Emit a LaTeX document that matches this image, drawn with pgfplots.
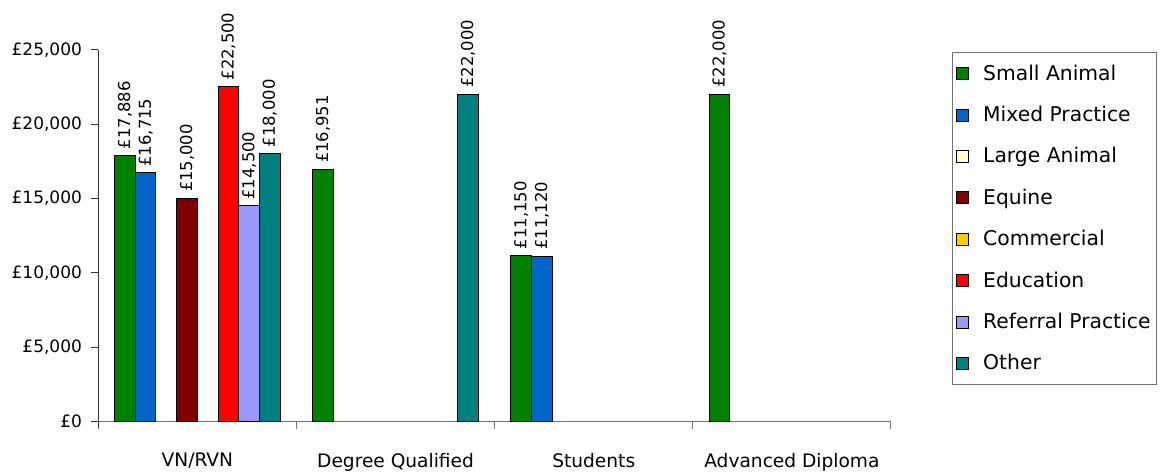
\documentclass[border=0pt]{standalone}
\usepackage{pgfplots}
\pgfplotsset{compat=1.18}
\usepackage{fontspec}
\setmainfont{DejaVu Sans}
\definecolor{cSmall}{HTML}{008000}
\definecolor{cMixed}{HTML}{0066CC}
\definecolor{cLarge}{HTML}{FFFFCC}
\definecolor{cEquine}{HTML}{800000}
\definecolor{cComm}{HTML}{FFCC00}
\definecolor{cEdu}{HTML}{FF0000}
\definecolor{cRef}{HTML}{9999FF}
\definecolor{cOther}{HTML}{008080}
\begin{document}
\fontsize{17}{20}\selectfont
\begin{tikzpicture}
\begin{axis}[
  at={(0,0)}, anchor=south west,
  scale only axis, width=792.7pt, height=372pt,
  clip=false,
  ybar, bar width=20.7pt,
  xmin=-0.5, xmax=3.5, ymin=0, ymax=25000,
  axis x line*=bottom, axis y line*=left,
  separate axis lines,
  x axis line style={draw=gray!90!black, line width=1pt},
  y axis line style={draw=black!80, line width=1pt, shorten <=-6.5pt},
  xtick={0,1,2,3},
  xticklabels={VN/RVN, Degree Qualified, Students, Advanced Diploma},
  major x tick style={draw=none},
  minor xtick={-0.5,0.5,1.5,2.5,3.5},
  minor x tick style={draw=gray!90!black, line width=1pt},
  minor tick length=7pt,
  major tick length=7.5pt,
  tick align=outside,
  ytick={0,5000,10000,15000,20000,25000},
  scaled y ticks=false,
  y tick style={draw=black!80, line width=1pt},
  /pgf/number format/assume math mode=true,
  /pgf/number format/.cd, fixed, precision=0, 1000 sep={,}, /pgfplots/.cd,
  yticklabel={£\pgfmathprintnumber{\tick}},
  x tick label style={yshift=-18pt, font=\fontsize{18.6}{22}\selectfont},
  y tick label style={xshift=-3pt, font=\fontsize{17}{20}\selectfont},
  nodes near coords={£\pgfmathprintnumber{\pgfplotspointmeta}},
  every node near coord/.append style={rotate=90, anchor=west, inner xsep=6pt, inner ysep=0pt,
    font=\fontsize{16.4}{20}\selectfont},
  legend style={at={(1.0766,0.993)}, anchor=north west, draw=gray!90!black, line width=1pt,
    font=\fontsize{20.3}{24}\selectfont,
    nodes={inner ysep=0pt},
    cells={anchor=west}, row sep=23.4pt, inner xsep=4pt, inner ysep=12pt,
    /tikz/every odd column/.append style={column sep=12pt}},
  legend image code/.code={\draw[#1,draw=black,line width=1pt] (0pt,-6pt) rectangle (12pt,6pt);},
  every axis plot/.append style={draw=black, line width=1pt},
]
\addplot[fill=cSmall, bar shift=-72.45pt] coordinates {(0,17886) (1,16951) (2,11150) (3,22000)};
\addlegendentry{Small Animal}
\addplot[fill=cMixed, bar shift=-51.75pt] coordinates {(0,16715) (2,11120)};
\addlegendentry{Mixed Practice}
\addlegendimage{fill=cLarge}
\addlegendentry{Large Animal}
\addplot[fill=cEquine, bar shift=-10.35pt] coordinates {(0,15000)};
\addlegendentry{Equine}
\addlegendimage{fill=cComm}
\addlegendentry{Commercial}
\addplot[fill=cEdu, bar shift=31.05pt] coordinates {(0,22500)};
\addlegendentry{Education}
\addplot[fill=cRef, bar shift=51.75pt] coordinates {(0,14500)};
\addlegendentry{Referral Practice}
\addplot[fill=cOther, bar shift=72.45pt] coordinates {(0,18000) (1,22000)};
\addlegendentry{Other}
\end{axis}
\pgfresetboundingbox
\path[use as bounding box] (-98.3pt,-51.3pt) rectangle (1064.7pt,421.7pt);
\end{tikzpicture}
\end{document}
